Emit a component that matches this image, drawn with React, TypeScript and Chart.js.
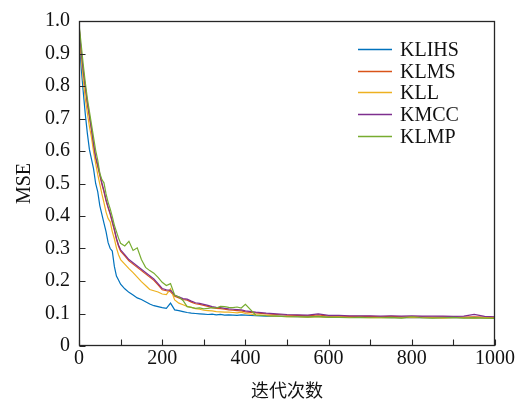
import React, { useEffect, useRef } from 'react';
import { Chart, registerables } from 'chart.js';

Chart.register(...registerables);

const ITER = [
  0, 3, 6, 10, 15, 20, 25, 30, 35, 40, 45, 50, 55, 60, 65, 70, 75, 80, 85, 90, 95, 100,
  110, 120, 130, 140, 150, 160, 170, 180, 190, 200, 210, 220, 230, 240, 250, 260, 270, 280, 290, 300,
  310, 320, 330, 340, 350, 360, 370, 380, 390, 400,
  425, 450, 475, 500, 525, 550, 575, 600, 625, 650, 675, 700, 725, 750, 775, 800, 825, 850, 875, 900,
  925, 950, 975, 1000,
];

const KLIHS = [
  0.975, 0.9, 0.845, 0.785, 0.715, 0.655, 0.605, 0.575, 0.545, 0.5, 0.475, 0.432, 0.405, 0.378, 0.352, 0.318, 0.3, 0.292, 0.245, 0.215, 0.203, 0.19,
  0.176, 0.165, 0.157, 0.148, 0.143, 0.136, 0.129, 0.124, 0.121, 0.118, 0.116, 0.132, 0.111, 0.109, 0.106, 0.103, 0.101, 0.1, 0.099, 0.098,
  0.097, 0.098, 0.096, 0.097, 0.095, 0.096, 0.095, 0.094, 0.096, 0.095,
  0.093, 0.092, 0.092, 0.091, 0.09, 0.091, 0.09, 0.089, 0.089, 0.088, 0.089, 0.088, 0.088, 0.087, 0.088, 0.087, 0.088, 0.087, 0.087, 0.088,
  0.087, 0.086, 0.087, 0.086,
];

const KLMS = [
  0.985, 0.935, 0.895, 0.845, 0.795, 0.745, 0.705, 0.665, 0.618, 0.578, 0.552, 0.525, 0.497, 0.474, 0.447, 0.425, 0.405, 0.38, 0.356, 0.328, 0.307, 0.292,
  0.277, 0.262, 0.252, 0.242, 0.232, 0.222, 0.212, 0.202, 0.188, 0.173, 0.17, 0.167, 0.153, 0.148, 0.143, 0.141, 0.135, 0.13, 0.128, 0.125,
  0.122, 0.118, 0.116, 0.115, 0.113, 0.111, 0.11, 0.109, 0.108, 0.105,
  0.102, 0.099, 0.097, 0.095, 0.094, 0.093, 0.096, 0.092, 0.092, 0.091, 0.091, 0.091, 0.09, 0.091, 0.09, 0.09, 0.09, 0.089, 0.09, 0.089,
  0.089, 0.09, 0.089, 0.088,
];

const KLL = [
  0.98, 0.925, 0.878, 0.822, 0.762, 0.718, 0.676, 0.642, 0.598, 0.562, 0.528, 0.498, 0.468, 0.441, 0.412, 0.392, 0.382, 0.352, 0.33, 0.302, 0.281, 0.266,
  0.252, 0.238, 0.226, 0.212, 0.198, 0.186, 0.174, 0.17, 0.166, 0.16, 0.158, 0.176, 0.142, 0.132, 0.127, 0.122, 0.119, 0.115, 0.113, 0.11,
  0.109, 0.108, 0.106, 0.105, 0.104, 0.104, 0.103, 0.102, 0.104, 0.1,
  0.096, 0.094, 0.092, 0.09, 0.09, 0.089, 0.09, 0.088, 0.089, 0.088, 0.088, 0.087, 0.088, 0.087, 0.087, 0.088, 0.087, 0.087, 0.086, 0.087,
  0.087, 0.086, 0.087, 0.086,
];

const KMCC = [
  0.99, 0.94, 0.9, 0.85, 0.8, 0.75, 0.71, 0.668, 0.622, 0.582, 0.557, 0.53, 0.502, 0.478, 0.45, 0.428, 0.408, 0.384, 0.36, 0.332, 0.311, 0.296,
  0.281, 0.266, 0.256, 0.246, 0.236, 0.226, 0.216, 0.206, 0.192, 0.177, 0.173, 0.171, 0.157, 0.151, 0.146, 0.144, 0.138, 0.133, 0.131, 0.128,
  0.125, 0.121, 0.119, 0.118, 0.116, 0.114, 0.113, 0.112, 0.111, 0.108,
  0.104, 0.101, 0.099, 0.097, 0.096, 0.095, 0.099, 0.094, 0.094, 0.093, 0.093, 0.093, 0.092, 0.093, 0.092, 0.093, 0.092, 0.092, 0.092, 0.091,
  0.092, 0.097, 0.091, 0.09,
];

const KLMP = [
  0.99, 0.955, 0.918, 0.868, 0.812, 0.762, 0.722, 0.682, 0.642, 0.602, 0.572, 0.532, 0.512, 0.502, 0.468, 0.442, 0.422, 0.398, 0.372, 0.352, 0.332, 0.316,
  0.308, 0.322, 0.294, 0.302, 0.266, 0.242, 0.232, 0.224, 0.211, 0.196, 0.186, 0.192, 0.156, 0.151, 0.14, 0.121, 0.119, 0.116, 0.117, 0.114,
  0.116, 0.118, 0.117, 0.122, 0.121, 0.119, 0.118, 0.12, 0.117, 0.128,
  0.095, 0.093, 0.092, 0.09, 0.09, 0.089, 0.091, 0.088, 0.088, 0.087, 0.088, 0.087, 0.087, 0.088, 0.086, 0.09, 0.087, 0.086, 0.087, 0.088,
  0.086, 0.087, 0.086, 0.085,
];

const SERIES_NAMES = ['KLIHS', 'KLMS', 'KLL', 'KMCC', 'KLMP'];
const SERIES_VALUES = [KLIHS, KLMS, KLL, KMCC, KLMP];
const COLORS = ['#0072BD', '#D95319', '#EDB120', '#7E2F8E', '#77AC30'];
const DRAW_ORDER = [4, 3, 2, 1, 0];
const X_LABEL_STEP = 200;
const X_TICK_STEP = 100;
const Y_TICK_STEP = 0.1;
const X_TITLE = '迭代次数';
const Y_TITLE = 'MSE';

const SERIF = '"Liberation Serif", "Times New Roman", serif';

const framePlugin = {
  id: 'frameTicks',
  afterDatasetsDraw(chart: any) {
    const { ctx, chartArea, scales } = chart;
    const { left, right, top, bottom } = chartArea;
    const L = Math.round(left) + 0.5;
    const R = Math.round(right) - 0.5;
    const T = Math.round(top) + 0.5;
    const B = Math.round(bottom) - 0.5;
    ctx.save();
    ctx.strokeStyle = '#262626';
    ctx.lineWidth = 1.3;
    ctx.strokeRect(L, T, R - L, B - T);
    ctx.lineWidth = 1.1;
    ctx.beginPath();
    for (let v = 0; v <= 1.0001; v += Y_TICK_STEP) {
      const py = Math.round(scales.y.getPixelForValue(v)) + 0.5;
      ctx.moveTo(L, py);
      ctx.lineTo(L + 6, py);
    }
    for (let v = 0; v <= 1000; v += X_TICK_STEP) {
      const px = Math.round(scales.x.getPixelForValue(v)) + 0.5;
      ctx.moveTo(px, B);
      ctx.lineTo(px, B - 6);
    }
    ctx.stroke();

    // legend
    const lx0 = 358;
    const lx1 = 392;
    const tx = 400;
    const y0 = 49;
    const dy = 21.7;
    ctx.font = '20px ' + SERIF;
    ctx.textBaseline = 'middle';
    ctx.textAlign = 'left';
    for (let i = 0; i < SERIES_NAMES.length; i++) {
      const yy = Math.round(y0 + i * dy) + 0.5;
      ctx.beginPath();
      ctx.strokeStyle = COLORS[i];
      ctx.lineWidth = 1.3;
      ctx.moveTo(lx0, yy);
      ctx.lineTo(lx1, yy);
      ctx.stroke();
      ctx.fillStyle = '#111';
      ctx.fillText(SERIES_NAMES[i], tx, yy + 1);
    }
    ctx.restore();
  },
};

export default function App() {
  const ref = useRef<HTMLCanvasElement | null>(null);

  useEffect(() => {
    if (!ref.current) return;
    const datasets = SERIES_NAMES.map((name, i) => ({
      label: name,
      data: ITER.map((x, j) => ({ x, y: SERIES_VALUES[i][j] })),
      borderColor: COLORS[i],
      backgroundColor: COLORS[i],
      borderWidth: 1.2,
      pointRadius: 0,
      tension: 0,
      fill: false,
      order: DRAW_ORDER[i],
    }));

    const chart = new Chart(ref.current, {
      type: 'line',
      data: { datasets },
      options: {
        responsive: false,
        animation: false,
        layout: { padding: { top: 13, right: 28, left: 0, bottom: 0 } },
        plugins: {
          legend: { display: false },
          tooltip: { enabled: false },
        },
        scales: {
          x: {
            type: 'linear',
            min: 0,
            max: 1000,
            grid: { display: false, drawTicks: false },
            border: { display: false },
            ticks: {
              stepSize: X_TICK_STEP,
              autoSkip: false,
              maxRotation: 0,
              padding: 1,
              color: '#111',
              font: { family: SERIF, size: 20 },
              callback: (v: any) => (Number(v) % X_LABEL_STEP === 0 ? String(v) : ''),
            },
            title: {
              display: true,
              text: X_TITLE,
              color: '#111',
              font: { family: '"Noto Sans CJK SC", sans-serif', size: 18 },
              padding: { top: 0, bottom: 4 },
            },
            afterFit: (s: any) => {
              s.height = 59;
            },
          },
          y: {
            type: 'linear',
            min: 0,
            max: 1,
            grid: { display: false, drawTicks: false },
            border: { display: false },
            ticks: {
              stepSize: Y_TICK_STEP,
              padding: 9,
              color: '#111',
              font: { family: SERIF, size: 20 },
              callback: (v: any) => (Number(v) === 0 ? '0' : Number(v).toFixed(1)),
            },
            title: {
              display: true,
              text: Y_TITLE,
              color: '#111',
              font: { family: SERIF, size: 20 },
              padding: { top: 13, bottom: 0 },
            },
            afterFit: (s: any) => {
              s.width = 79;
            },
          },
        },
      } as any,
      plugins: [framePlugin],
    });
    return () => chart.destroy();
  }, []);

  return (
    <div style={{ position: 'fixed', left: 0, top: 0, width: 523, height: 405, background: '#fff' }}>
      <canvas ref={ref} width={523} height={405} style={{ display: 'block' }} />
    </div>
  );
}
